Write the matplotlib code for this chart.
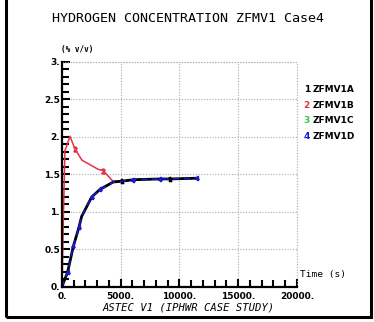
"""
Hydrogen concentration plot, ZFMV1 case 4.

"""

import matplotlib
matplotlib.use("Agg")
import matplotlib.pyplot as plt
from matplotlib.patches import Rectangle
from matplotlib.ticker import MultipleLocator


# time (s) and concentration (% v/v)
t_a = [0, 85, 480, 960, 1450, 1670, 2530, 3230, 4370, 5080, 6070, 8340, 9190, 11500]
v_a = [0, 0.04, 0.20, 0.54, 0.80, 0.94, 1.20, 1.30, 1.40, 1.41, 1.43, 1.44, 1.44, 1.45]

t_b = [0, 100, 250, 400, 680, 1100, 1700, 3060, 3500, 4340, 5080, 6070, 8340, 9190, 11500]
v_b = [0, 0.80, 1.82, 1.88, 2.01, 1.84, 1.69, 1.57, 1.55, 1.41, 1.41, 1.43, 1.44, 1.44, 1.45]

t_c = t_a
v_c = v_a

t_d = t_a
v_d = v_a

series_names = ["ZFMV1A", "ZFMV1B", "ZFMV1C", "ZFMV1D"]
series_colors = ["black", "#e8304a", "#3cc83c", "#1a1ad0"]

x_ticks = [0, 5000, 10000, 15000, 20000]
x_labels = ["0.", "5000.", "10000.", "15000.", "20000."]
y_ticks = [0, 0.5, 1, 1.5, 2, 2.5, 3]
y_labels = ["0.", "0.5", "1.", "1.5", "2.", "2.5", "3."]


fig = plt.figure(figsize=(3.74, 3.22), dpi=100)
ax = fig.add_axes([0.1658, 0.1087, 0.628, 0.699])

ax.plot(t_b, v_b, color=series_colors[1], lw=1.1,
        marker="$2$", markersize=3.5, markevery=[5, 8])
ax.plot(t_c, v_c, color=series_colors[2], lw=1.1)
ax.plot(t_a, v_a, color=series_colors[0], lw=2.0,
        marker="$1$", markersize=3, markevery=[9, 12])
ax.plot(t_d, v_d, color=series_colors[3], lw=1.1, dashes=(4, 3),
        marker="$4$", markersize=3, markevery=[2, 3, 4, 6, 7, 10, 11, 13])

ax.set_xlim(0, 20000)
ax.set_ylim(0, 3)
ax.set_xticks(x_ticks)
ax.set_xticklabels(x_labels)
ax.set_yticks(y_ticks)
ax.set_yticklabels(y_labels)
ax.xaxis.set_minor_locator(MultipleLocator(1000))
ax.yaxis.set_minor_locator(MultipleLocator(0.1))

ax.tick_params(which="both", direction="in", width=1.5, color="black",
               labelsize=6.5, pad=1.5)
ax.tick_params(axis="x", pad=3.5)
ax.tick_params(which="major", length=6)
ax.tick_params(which="minor", length=5)
for lab in ax.get_xticklabels() + ax.get_yticklabels():
    lab.set_fontweight("bold")

for side in ["top", "right"]:
    ax.spines[side].set_visible(False)
for side in ["left", "bottom"]:
    ax.spines[side].set_linewidth(1.6)

grid_style = dict(color="#aaaaaa", linestyle=(0, (1, 1.5)), lw=0.8)
ax.grid(True, which="major", **grid_style)
ax.plot([0, 20000], [3, 3], clip_on=False, **grid_style)
ax.plot([20000, 20000], [0, 3], clip_on=False, **grid_style)

fig.text(0.503, 0.944, "HYDROGEN CONCENTRATION ZFMV1 Case4",
         ha="center", va="center", fontsize=9.6, family="DejaVu Sans Mono")
fig.text(0.163, 0.845, "(% v/v)", ha="left", va="center",
         fontsize=5.5, family="DejaVu Sans Mono", fontweight="bold")
fig.text(0.802, 0.149, "Time (s)", ha="left", va="center",
         fontsize=6.8, family="DejaVu Sans Mono")
fig.text(0.505, 0.044, "ASTEC V1 (IPHWR CASE STUDY)", ha="center", va="center",
         fontsize=7.6, family="DejaVu Sans Mono", style="italic")

for i, name in enumerate(series_names):
    yy = 1 - (90 + i * 15.4) / 322
    fig.text(0.812, yy, str(i + 1), color=series_colors[i], ha="left",
             va="center", fontsize=6.5, fontweight="bold")
    fig.text(0.836, yy, name, color="black", ha="left",
             va="center", fontsize=6.5, fontweight="bold")

fig.patches.append(Rectangle((0.017, 0.014), 0.975, 1.0, transform=fig.transFigure,
                             fill=False, edgecolor="black", lw=2.2))

fig.savefig("out.png", dpi=100)
